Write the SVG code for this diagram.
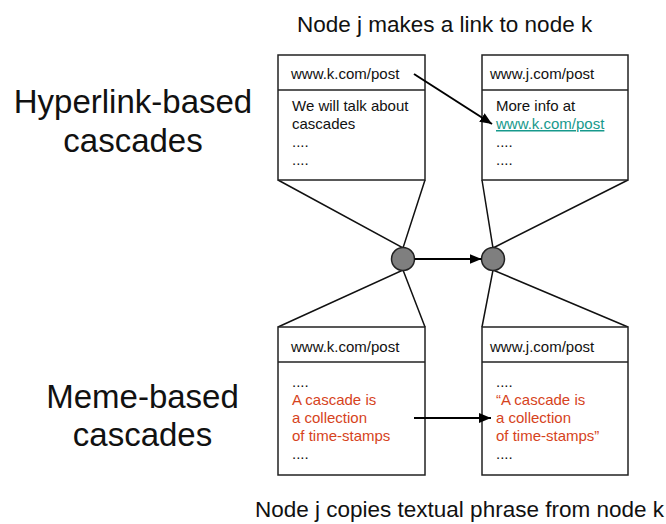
<svg xmlns="http://www.w3.org/2000/svg" width="666" height="524" viewBox="0 0 666 524">
  <style>
    text { font-family: "Liberation Sans", Arial, sans-serif; fill: #111; }
    .big { font-size: 33px; text-anchor: middle; }
    .title { font-size: 22.5px; }
    .body { font-size: 15px; }
    .red { fill: #d6431c; }
    .link { fill: #17998c; text-decoration: underline; }
    .box { fill: #fff; stroke: #222; stroke-width: 1.5; }
    .sep { stroke: #222; stroke-width: 1.5; }
    .fan { stroke: #111; stroke-width: 1.5; fill: none; }
    .arrow { stroke: #000; stroke-width: 2; fill: none; marker-end: url(#head); }
    .node { fill: #7f7f7f; stroke: #222; stroke-width: 1.5; }
  </style>
  <defs>
    <marker id="head" viewBox="0 0 12 10" refX="12" refY="5" markerWidth="12" markerHeight="10" markerUnits="userSpaceOnUse" orient="auto">
      <path d="M0,0 L12,5 L0,10 Z" fill="#000"/>
    </marker>
  </defs>

  <rect width="666" height="524" fill="#fff"/>

  <!-- captions -->
  <text class="title" x="297" y="32">Node j makes a link to node k</text>
  <text class="title" x="255" y="517">Node j copies textual phrase from node k</text>
  <text class="big" x="133" y="113">Hyperlink-based</text>
  <text class="big" x="133" y="152">cascades</text>
  <text class="big" x="142.5" y="408">Meme-based</text>
  <text class="big" x="142.5" y="446">cascades</text>

  <!-- fan lines joining pages to their nodes -->
  <g id="fans">
    <path class="fan" d="M278,180 L403,248 L425,180"/>
    <path class="fan" d="M482,180 L493,248 L628,180"/>
    <path class="fan" d="M278,327 L403,270 L425,327"/>
    <path class="fan" d="M482,327 L493,270 L628,327"/>
  </g>

  <g id="page-k-hyperlink">
    <rect class="box" x="278" y="55" width="147" height="125"/>
    <line class="sep" x1="278" y1="90" x2="425" y2="90"/>
    <text class="body" x="291" y="79">www.k.com/post</text>
    <text class="body" x="292" y="111">We will talk about</text>
    <text class="body" x="292" y="129">cascades</text>
    <text class="body" x="292" y="147">....</text>
    <text class="body" x="292" y="165">....</text>
  </g>

  <g id="page-j-hyperlink">
    <rect class="box" x="482" y="55" width="146" height="125"/>
    <line class="sep" x1="482" y1="90" x2="628" y2="90"/>
    <text class="body" x="490" y="79">www.j.com/post</text>
    <text class="body" x="496" y="111">More info at</text>
    <text class="body link" x="496" y="129">www.k.com/post</text>
    <text class="body" x="496" y="147">....</text>
    <text class="body" x="496" y="165">....</text>
  </g>

  <g id="page-k-meme">
    <rect class="box" x="278" y="327" width="147" height="148"/>
    <line class="sep" x1="278" y1="362" x2="425" y2="362"/>
    <text class="body" x="291" y="352">www.k.com/post</text>
    <text class="body" x="292" y="387">....</text>
    <text class="body red" x="292" y="405">A cascade is</text>
    <text class="body red" x="292" y="423">a collection</text>
    <text class="body red" x="292" y="441">of time-stamps</text>
    <text class="body" x="292" y="459">....</text>
  </g>

  <g id="page-j-meme">
    <rect class="box" x="482" y="327" width="146" height="148"/>
    <line class="sep" x1="482" y1="362" x2="628" y2="362"/>
    <text class="body" x="490" y="352">www.j.com/post</text>
    <text class="body" x="496" y="387">....</text>
    <text class="body red" x="496" y="405">“A cascade is</text>
    <text class="body red" x="496" y="423">a collection</text>
    <text class="body red" x="496" y="441">of time-stamps”</text>
    <text class="body" x="496" y="459">....</text>
  </g>

  <g id="node-k">
    <circle class="node" cx="403" cy="259" r="11.5"/>
  </g>
  <g id="node-j">
    <circle class="node" cx="493" cy="259" r="11.5"/>
  </g>

  <g id="connectors">
    <line class="arrow" x1="414" y1="74" x2="492" y2="124"/>
    <line class="arrow" x1="414.5" y1="259" x2="481.5" y2="259"/>
    <line class="arrow" x1="414" y1="418" x2="491" y2="418"/>
  </g>
</svg>
